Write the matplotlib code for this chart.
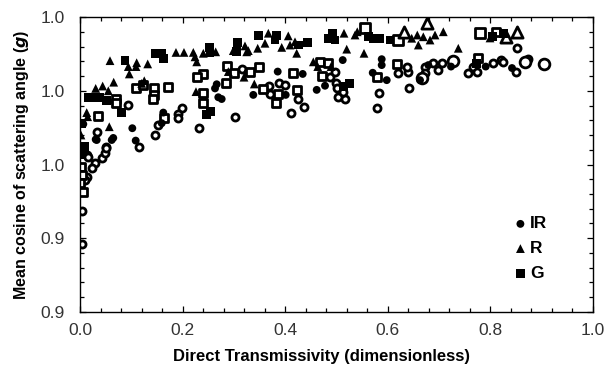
import matplotlib.pyplot as plt
from matplotlib.ticker import MultipleLocator, FixedLocator, FixedFormatter

plt.rcParams['font.family'] = ['Liberation Sans', 'DejaVu Sans']

# filled symbols (legend entries)
ir_x = [.0065, .0306, .0649, .1020, .1086, .0326, .0618, .1624, .1593, .2665, .2632, .2696,
        .2762, .3854, .4341, .4010, .4614, .4776, .3378, .5121, .5881, .5881, .5706, .5979,
        .6628, .6790, .7232, .7908, .8421]
ir_g = [.9637, .9585, .9590, .9623, .9581, .9583, .9583, .9676, .9640, .9772, .9758, .9728,
        .9722, .9815, .9807, .9736, .9753, .9767, .9736, .9854, .9857, .9837, .9811, .9786,
        .9786, .9837, .9832, .9832, .9827]

r_x = [.0585, .0942, .1105, .1092, .0961, .1320, .0306, .0442, .0552, .0657, .1253, .1203,
       .0131, .0150, .0571, .0019, .1871, .2027, .2209, .2242, .2275, .2404, .2645, .2988,
       .3216, .3250, .2891, .3197, .2261, .3671, .3606, .3464, .3281, .4060, .3932, .4094,
       .4191, .4224, .4548, .4634, .4893, .3398, .5146, .5361, .5405, .5199, .5536, .6466,
       .6575, .6595, .6823, .6920, .7082, .6692, .7374, .7992]
r_g = [.9852, .9832, .9845, .9832, .9807, .9841, .9758, .9766, .9750, .9779, .9784, .9775,
       .9676, .9662, .9628, .9600, .9880, .9880, .9880, .9865, .9848, .9877, .9882, .9886,
       .9902, .9882, .9815, .9796, .9747, .9945, .9911, .9894, .9886, .9936, .9897, .9905,
       .9916, .9877, .9848, .9832, .9832, .9773, .9945, .9939, .9950, .9891, .9877, .9928,
       .9939, .9905, .9922, .9939, .9950, .9933, .9894, .9929]

g_x = [.0877, .1462, .1598, .0162, .0292, .0390, .0520, .0813, .0097, .0053, .0033, .0033,
       .1624, .2520, .2534, .3066, .3055, .2470, .2548, .3476, .3834, .3801, .4255, .4431,
       .4840, .4918, .4971, .5620, .5717, .5834, .6043, .5133, .5250, .7733, .8037, .8251]
g_g = [.9852, .9875, .9877, .9728, .9728, .9728, .9716, .9676, .9560, .9549, .9532, .9640,
       .9860, .9897, .9880, .9914, .9882, .9670, .9679, .9937, .9937, .9922, .9905, .9913,
       .9928, .9945, .9922, .9933, .9928, .9928, .9922, .9764, .9775, .9843, .9933, .9945]

# open symbols
oc_x = [.0930, .0326, .0501, .1156, .1462, .1526, .0142, .0131, .0162, .0292, .0423, .0487,
        .0507, .0228, .0097, .0033, .0033, .1982, .1916, .1904, .2320, .3021, .3152, .3281,
        .3684, .3704, .3879, .3996, .4255, .4372, .4113, .4873, .4971, .4990, .5004, .5035,
        .5166, .5121, .6205, .6400, .6368, .5834, .5784, .6419, .7051, .6887, .6725, .6984,
        .6725, .7667, .7569, .7733, .8057, .8207, .8524, .8251, .8739, .8499]
oc_g = [.9701, .9611, .9560, .9560, .9599, .9634, .9532, .9459, .9526, .9506, .9521, .9538,
        .9555, .9487, .9447, .9342, .9231, .9691, .9671, .9657, .9623, .9660, .9824, .9813,
        .9766, .9739, .9775, .9769, .9721, .9696, .9676, .9798, .9815, .9777, .9758, .9728,
        .9721, .9747, .9811, .9815, .9832, .9743, .9693, .9760, .9843, .9845, .9832, .9820,
        .9809, .9832, .9809, .9815, .9845, .9854, .9894, .9848, .9857, .9815]
oc_big_x = [.7277, .6661, .9045, .8674]
oc_big_g = [.9852, .9792, .9840, .9848]

os_x = [.0696, .0696, .1092, .1234, .1437, .1437, .1429, .0357, .0014, .0033, .0000, .0053,
        .2860, .2846, .3008, .2404, .2287, .2404, .2392, .1721, .1637, .3314, .3495, .4158,
        .4678, .4840, .4723, .4224, .3865, .3815, .3573, .5784, .6173, .7764, .8103]
os_g = [.9723, .9710, .9758, .9769, .9758, .9736, .9721, .9664, .9493, .9464, .9436, .9408,
        .9834, .9777, .9809, .9807, .9798, .9743, .9710, .9762, .9659, .9813, .9829, .9809,
        .9848, .9845, .9800, .9753, .9739, .9707, .9755, .9798, .9841, .9860, .9950]
os_big_x = [.5556, .7797, .6205]
os_big_g = [.9962, .9945, .9922]

ot_x = [.6316, .6758, .8304, .8524]
ot_g = [.9950, .9979, .9933, .9950]

fig = plt.figure(figsize=(6.05, 3.69), dpi=100)
ax = fig.add_axes([0.1322, 0.1545, 0.848, 0.7994])

ow = 2.0
ax.scatter(oc_x, oc_g, s=26, marker='o', facecolors='white', edgecolors='black', linewidths=ow, zorder=2)
ax.scatter(oc_big_x, oc_big_g, s=60, marker='o', facecolors='white', edgecolors='black', linewidths=ow, zorder=2)
ax.scatter(os_x, os_g, s=26, marker='s', facecolors='white', edgecolors='black', linewidths=ow, zorder=2)
ax.scatter(os_big_x, os_big_g, s=60, marker='s', facecolors='white', edgecolors='black', linewidths=ow, zorder=2)
ax.scatter(ot_x, ot_g, s=65, marker='^', facecolors='white', edgecolors='black', linewidths=ow, zorder=2)

h1 = ax.scatter(ir_x, ir_g, s=32, marker='o', color='black', edgecolors='none', zorder=3)
h2 = ax.scatter(r_x, r_g, s=40, marker='^', color='black', edgecolors='none', zorder=3)
h3 = ax.scatter(g_x, g_g, s=40, marker='s', color='black', edgecolors='none', zorder=3)

ax.set_xlim(0, 1.0)
ax.set_ylim(0.9, 1.0)
ax.xaxis.set_major_locator(MultipleLocator(0.2))
ax.xaxis.set_minor_locator(MultipleLocator(0.04))
ax.xaxis.set_major_formatter(plt.FormatStrFormatter('%.1f'))
yt = [0.9, 0.925, 0.95, 0.975, 1.0]
ax.yaxis.set_major_locator(FixedLocator(yt))
ax.yaxis.set_major_formatter(FixedFormatter(['0.9', '0.9', '1.0', '1.0', '1.0']))
ax.yaxis.set_minor_locator(MultipleLocator(0.005))

ax.tick_params(which='both', direction='in', top=True, right=True, width=0.9, colors='black',
               labelcolor='#333333', labelsize=12.5)
ax.tick_params(which='major', length=4.5)
ax.tick_params(axis='x', which='major', pad=8)
ax.tick_params(axis='y', which='major', pad=11)
ax.tick_params(which='minor', length=3)
for sp in ax.spines.values():
    sp.set_linewidth(1.0)

ax.set_xlabel('Direct Transmissivity (dimensionless)', fontsize=12, fontweight='bold')
ax.xaxis.set_label_coords(0.47, -0.125)
ax.set_ylabel('Mean cosine of scattering angle ($\\boldsymbol{g}$)', fontsize=11.5, fontweight='bold', labelpad=7)

ax.legend([h1, h2, h3], ['IR', 'R', 'G'], frameon=False, loc='upper left',
          bbox_to_anchor=(0.828, 0.348), handletextpad=0.05, labelspacing=0.55,
          handlelength=1.0, borderaxespad=0, prop={'weight': 'bold', 'size': 12.5})

fig.savefig('out.png', dpi=100)
